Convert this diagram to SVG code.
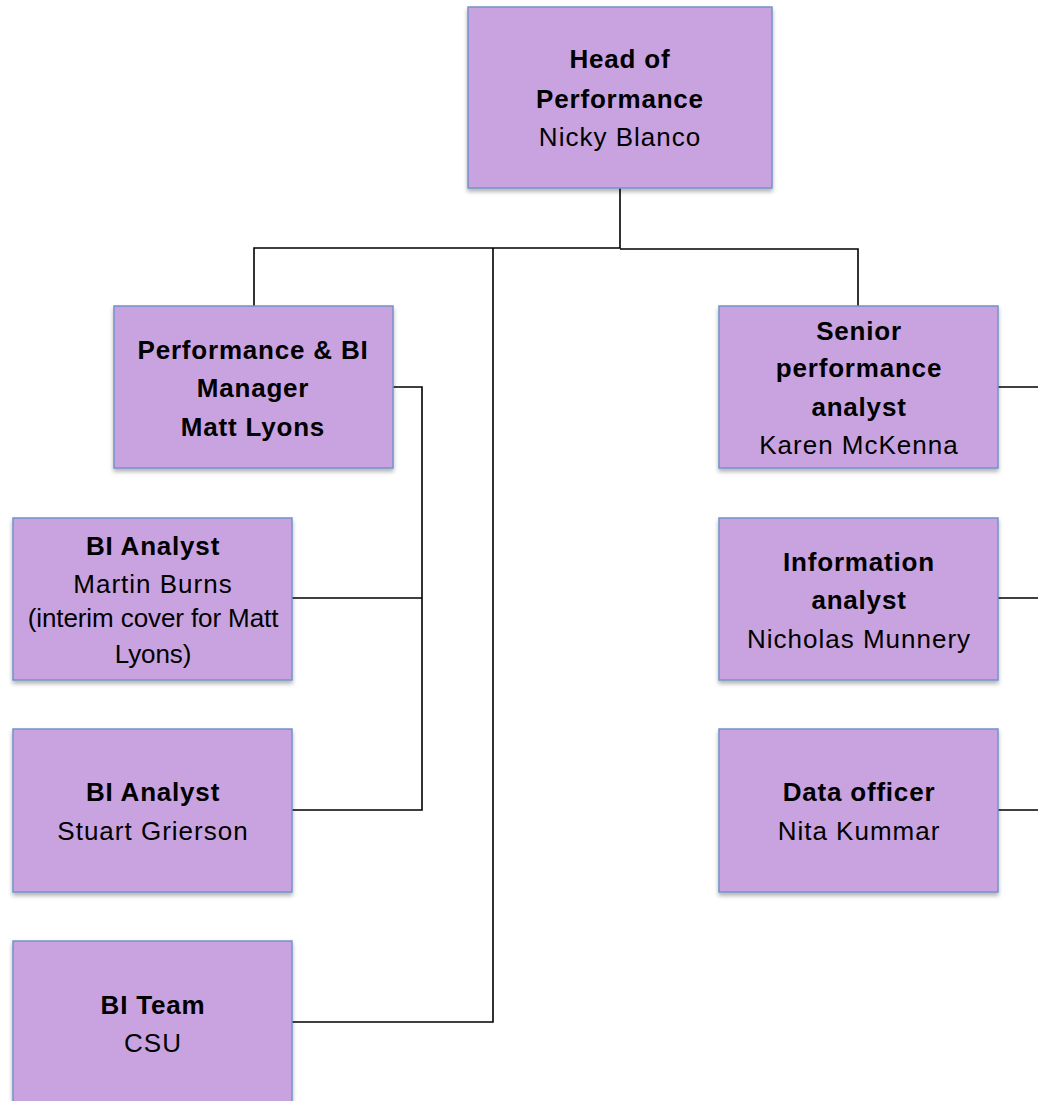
<svg xmlns="http://www.w3.org/2000/svg" width="1038" height="1101" viewBox="0 0 1038 1101">
<style>
.box{fill:#C9A3E0;stroke:#7393C9;stroke-width:1.5;filter:url(#sh)}
.t{font-family:"Liberation Sans",Arial,sans-serif;font-size:26px;fill:#000;text-anchor:middle;letter-spacing:1px}
.b{font-weight:bold;letter-spacing:0.8px}
.s{letter-spacing:-0.1px}
.c{fill:none;stroke:#000;stroke-width:1.6}
</style>
<defs>
<filter id="sh" x="-10%" y="-10%" width="120%" height="130%">
<feDropShadow dx="0" dy="3" stdDeviation="2" flood-color="#000" flood-opacity="0.3"/>
</filter>
</defs>
<rect width="1038" height="1101" fill="#fff"/>
<g id="connectors">
<path class="c" d="M620,188V248H254V306"/>
<path class="c" d="M620,249H858V306"/>
<path class="c" d="M493,248V1022H292"/>
<path class="c" d="M393,387H422V810H292"/>
<path class="c" d="M292,598H422"/>
<path class="c" d="M998,387H1038"/>
<path class="c" d="M998,598H1038"/>
<path class="c" d="M998,810H1038"/>
</g>
<g id="head">
<rect class="box" x="468" y="7" width="304" height="181"/>
<text class="t b" x="620" y="68">Head of</text>
<text class="t b" x="620" y="108">Performance</text>
<text class="t" x="620" y="146">Nicky Blanco</text>
</g>
<g id="manager">
<rect class="box" x="114" y="306" width="279" height="162"/>
<text class="t b" x="253" y="359">Performance &amp; BI</text>
<text class="t b" x="253" y="397">Manager</text>
<text class="t b" x="253" y="436">Matt Lyons</text>
</g>
<g id="senior">
<rect class="box" x="719" y="306" width="279" height="162"/>
<text class="t b" x="859" y="340">Senior</text>
<text class="t b" x="859" y="377">performance</text>
<text class="t b" x="859" y="416">analyst</text>
<text class="t" x="859" y="454">Karen McKenna</text>
</g>
<g id="bi-analyst-martin">
<rect class="box" x="13" y="518" width="279" height="162"/>
<text class="t b" x="153" y="555">BI Analyst</text>
<text class="t" x="153" y="593">Martin Burns</text>
<text class="t s" x="153" y="627">(interim cover for Matt</text>
<text class="t s" x="153" y="663">Lyons)</text>
</g>
<g id="info-analyst">
<rect class="box" x="719" y="518" width="279" height="162"/>
<text class="t b" x="859" y="571">Information</text>
<text class="t b" x="859" y="609">analyst</text>
<text class="t" x="859" y="648">Nicholas Munnery</text>
</g>
<g id="bi-analyst-stuart">
<rect class="box" x="13" y="729" width="279" height="163"/>
<text class="t b" x="153" y="801">BI Analyst</text>
<text class="t" x="153" y="840">Stuart Grierson</text>
</g>
<g id="data-officer">
<rect class="box" x="719" y="729" width="279" height="163"/>
<text class="t b" x="859" y="801">Data officer</text>
<text class="t" x="859" y="840">Nita Kummar</text>
</g>
<g id="bi-team">
<rect class="box" x="13" y="941" width="279" height="170"/>
<text class="t b" x="153" y="1014">BI Team</text>
<text class="t" x="153" y="1052">CSU</text>
</g>
</svg>
